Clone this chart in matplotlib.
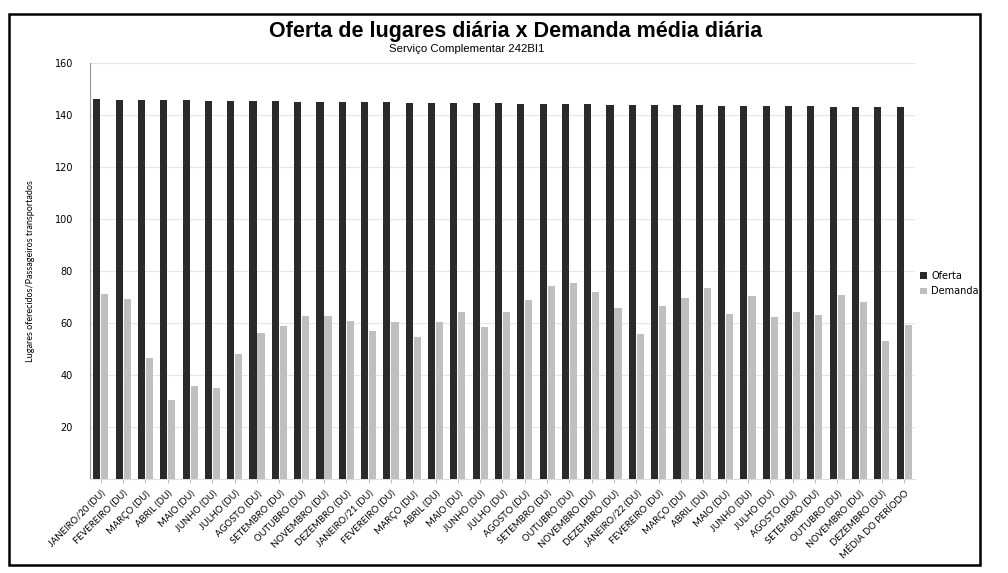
import matplotlib.pyplot as plt
from matplotlib.patches import Rectangle
import numpy as np

meses = ["JANEIRO/20 (DU)", "FEVEREIRO (DU)", "MARÇO (DU)", "ABRIL (DU)", "MAIO (DU)",
         "JUNHO (DU)", "JULHO (DU)", "AGOSTO (DU)", "SETEMBRO (DU)", "OUTUBRO (DU)",
         "NOVEMBRO (DU)", "DEZEMBRO (DU)",
         "JANEIRO/21 (DU)", "FEVEREIRO (DU)", "MARÇO (DU)", "ABRIL (DU)", "MAIO (DU)",
         "JUNHO (DU)", "JULHO (DU)", "AGOSTO (DU)", "SETEMBRO (DU)", "OUTUBRO (DU)",
         "NOVEMBRO (DU)", "DEZEMBRO (DU)",
         "JANEIRO/22 (DU)", "FEVEREIRO (DU)", "MARÇO (DU)", "ABRIL (DU)", "MAIO (DU)",
         "JUNHO (DU)", "JULHO (DU)", "AGOSTO (DU)", "SETEMBRO (DU)", "OUTUBRO (DU)",
         "NOVEMBRO (DU)", "DEZEMBRO (DU)", "MÉDIA DO PERÍODO"]

oferta = [146.0, 145.9, 145.8, 145.7, 145.6, 145.5, 145.5, 145.4, 145.3, 145.2,
          145.1, 145.0, 144.9, 144.9, 144.8, 144.7, 144.6, 144.5, 144.5, 144.4,
          144.3, 144.2, 144.1, 144.0, 143.9, 143.9, 143.8, 143.7, 143.6, 143.5,
          143.5, 143.4, 143.3, 143.2, 143.1, 143.0, 143.0]

demanda = [71.2, 69.2, 46.4, 30.4, 35.9, 34.9, 48.1, 56.0, 59.0, 62.8,
           62.8, 60.6, 56.8, 60.5, 54.5, 60.5, 64.1, 58.3, 64.1, 69.0,
           74.1, 75.4, 71.8, 65.6, 55.8, 66.4, 69.5, 73.3, 63.5, 70.3,
           62.2, 64.1, 63.1, 70.8, 68.2, 53.2, 59.2]

cor_oferta = "#2a2a2a"
cor_demanda = "#bfbfbf"

fig = plt.figure(figsize=(10.08, 5.73), dpi=100)
ax = fig.add_axes([0.089, 0.164, 0.819, 0.726])

x = np.arange(len(meses))
w = 0.32
ax.bar(x - 0.18, oferta, w, color=cor_oferta, label="Oferta", zorder=3)
ax.bar(x + 0.18, demanda, w, color=cor_demanda, label="Demanda", zorder=3)

ax.set_xlim(-0.5, len(meses) - 0.5)
ax.set_ylim(0, 160)
ax.set_yticks(range(20, 161, 20))
ax.yaxis.grid(True, color="#e6e6e6", linewidth=0.8, zorder=0)
ax.tick_params(axis="y", length=0, labelsize=7, pad=12)
ax.set_xticks(x)
ax.set_xticklabels(meses, rotation=45, ha="right", rotation_mode="anchor",
                   fontsize=6.8, family="Lato")
ax.tick_params(axis="x", length=3, color="#bbbbbb", pad=4)
for s in ["top", "right"]:
    ax.spines[s].set_visible(False)
ax.spines["left"].set_color("#999999")
ax.spines["bottom"].set_color("#dddddd")
ax.set_ylabel("Lugares oferecidos/Passageiros transportados", fontsize=6.5,
              family="Lato", labelpad=14)

fig.text(0.512, 0.945, "Oferta de lugares diária x Demanda média diária",
         ha="center", va="center", fontsize=15.5, weight="bold",
         family="Liberation Sans")
fig.text(0.463, 0.915, "Serviço Complementar 242BI1", ha="center", va="center",
         fontsize=8.2, family="Liberation Sans")

ax.legend(loc="center left", bbox_to_anchor=(0.998, 0.47), frameon=False,
          fontsize=7, handlelength=0.7, handleheight=0.7, handletextpad=0.4,
          labelspacing=0.6, borderpad=0.2)

fig.patches.append(Rectangle((0.009, 0.014), 0.963, 0.962, transform=fig.transFigure,
                             fill=False, edgecolor="black", linewidth=1.8))

fig.savefig("out.png", dpi=100)
